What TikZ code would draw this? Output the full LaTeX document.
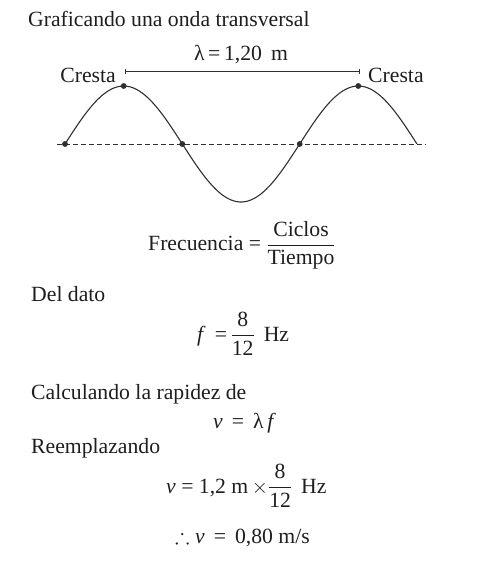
\documentclass[tikz,border=0pt]{standalone}
\usepackage{amsmath,amssymb}
\usepackage{fontspec}
\setmainfont{Liberation Serif}
\usetikzlibrary{arrows.meta}
\definecolor{wvInk}{HTML}{1E1E1E}
\definecolor{wvLine}{HTML}{303030}
\newcommand{\frc}[2]{$\dfrac{\text{#1}}{\text{#2}}$}

\begin{document}
\begin{tikzpicture}[x=1pt,y=-1pt,
    txt/.style={anchor=base west,inner sep=0pt,text=wvInk,
                font=\fontsize{21.7}{26}\selectfont},
    wave/.style={wvLine,line width=1.1pt},
    axisline/.style={wvLine,line width=1pt,dash pattern=on 4.5pt off 3.5pt}]
  \useasboundingbox (0,0) rectangle (496,563);

  \node[txt] (title) at (28,26) {Graficando una onda transversal};

  % wave and rest line
  \coordinate (ax0) at (57,144);
  \coordinate (ax1) at (426,144);
  \draw[axisline] (ax0) -- (ax1);
  \draw[wave] plot[domain=0:3,samples=120]
    ({65+117.33*\x},{144-58*sin(180*\x)});
  \foreach \n/\p in {a/{65,144},b/{123.7,86},c/{182.3,144},d/{299.7,144},e/{358.3,86}}
    \fill[wvLine] (\p) coordinate (\n) circle (2.9pt);

  % wavelength
  \coordinate (w0) at (125,71);
  \coordinate (w1) at (360,71);
  \draw[wvLine,line width=0.8pt,{Bar[width=5pt]}-{Bar[width=5pt]}] (w0) -- (w1);
  \node[txt,anchor=base] (lam) at (241,60) {λ\,=\,1,20\,\ m};
  \node[txt,anchor=base east] (cr1) at (116,82) {Cresta};
  \node[txt] (cr2) at (368,82) {Cresta};

  % calculations
  \node[txt] (freq) at (148,250.5) {Frecuencia = \frc{Ciclos}{Tiempo}};
  \node[txt] (dato) at (31,301.5) {Del dato};
  \node[txt] (fval) at (197,341) {\textit{f}\,\ =\,\frc{8}{12}\ \,Hz};
  \node[txt] (calc) at (31,399) {Calculando la rapidez de};
  \node[txt] (vdef) at (213,428) {\textit{v}\ \,=\ \,λ\,\textit{f}};
  \node[txt] (reem) at (31,453) {Reemplazando};
  \node[txt] (vsub) at (166,493) {\textit{v} = 1,2 m\,$\times$\frc{8}{12}\,\ Hz};
  \node[txt] (vres) at (175,543) {$\therefore$ \textit{v}\ \,=\ \,0,80 m/s};
\end{tikzpicture}
\end{document}
